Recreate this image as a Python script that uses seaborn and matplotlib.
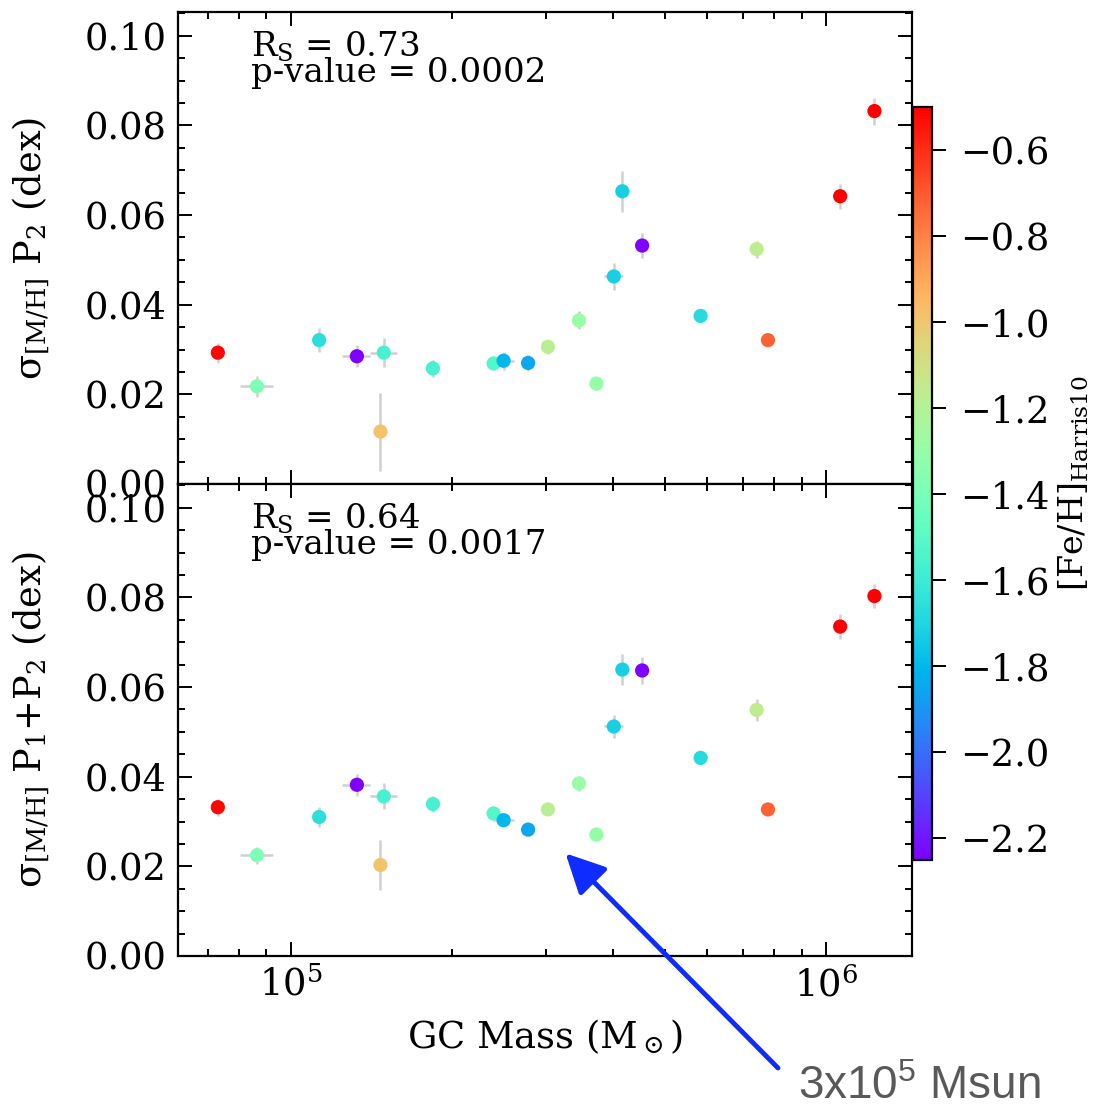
import numpy as np
import pandas as pd
import matplotlib
matplotlib.use("Agg")
import matplotlib.pyplot as plt
import matplotlib.ticker as mticker
import matplotlib.colors as mcolors
import seaborn as sns

# ---------------- data ----------------
gc_mass = [7.30e4, 8.64e4, 1.129e5, 1.328e5, 1.491e5, 1.470e5, 1.842e5, 2.392e5,
           2.497e5, 2.775e5, 3.022e5, 3.454e5, 3.723e5, 4.013e5, 4.163e5, 4.533e5,
           5.83e5, 7.42e5, 7.79e5, 1.063e6, 1.232e6]
mass_err = [1.0e3, 6.0e3, 1.0e3, 8.0e3, 8.5e3, 1.0e3, 1.0e3, 1.0e3,
            1.1e4, 1.0e3, 1.0e3, 1.0e3, 1.0e3, 1.7e4, 1.0e3, 1.0e3,
            1.0e3, 1.0e3, 1.0e3, 1.0e3, 1.0e3]
feh = [-0.52, -1.38, -1.66, -2.25, -1.56, -0.99, -1.56, -1.52,
       -1.80, -1.85, -1.18, -1.29, -1.30, -1.72, -1.72, -2.25,
       -1.68, -1.16, -0.72, -0.50, -0.50]
sigma_p2 = [0.0293, 0.0218, 0.0321, 0.0285, 0.0293, 0.0117, 0.0258, 0.0269,
            0.0275, 0.0270, 0.0306, 0.0365, 0.0224, 0.0463, 0.0653, 0.0532,
            0.0375, 0.0524, 0.0321, 0.0642, 0.0832]
sigma_p2_err = [0.0022, 0.0023, 0.0026, 0.0025, 0.0033, 0.0087, 0.0019, 0.0015,
                0.0020, 0.0018, 0.0015, 0.0020, 0.0015, 0.0031, 0.0046, 0.0028,
                0.0013, 0.0019, 0.0013, 0.0028, 0.0030]
sigma_p12 = [0.0332, 0.0225, 0.0310, 0.0382, 0.0356, 0.0203, 0.0339, 0.0318,
             0.0303, 0.0282, 0.0327, 0.0385, 0.0271, 0.0512, 0.0639, 0.0637,
             0.0442, 0.0549, 0.0327, 0.0735, 0.0803]
sigma_p12_err = [0.0019, 0.0019, 0.0022, 0.0024, 0.0029, 0.0055, 0.0017, 0.0015,
                 0.0013, 0.0011, 0.0013, 0.0016, 0.0015, 0.0025, 0.0035, 0.0030,
                 0.0011, 0.0025, 0.0011, 0.0027, 0.0026]
stats_top = ["0.73", "0.0002"]
stats_bottom = ["0.64", "0.0017"]
cbar_ticks = [-0.6, -0.8, -1.0, -1.2, -1.4, -1.6, -1.8, -2.0, -2.2]
arrow_target = (3.26e5, 0.0229)
arrow_label = "3x10$^5$ Msun"

df = pd.DataFrame({"mass": gc_mass, "mass_err": mass_err, "feh": feh,
                   "p2": sigma_p2, "p2_err": sigma_p2_err,
                   "p12": sigma_p12, "p12_err": sigma_p12_err})

# ---------------- style ----------------
sns.set_style("ticks")
plt.rcParams["font.family"] = ["DejaVu Serif"]
plt.rcParams["mathtext.fontset"] = "dejavuserif"
plt.rcParams["mathtext.rm"] = "Liberation Sans"
plt.rcParams["axes.linewidth"] = 1.6
plt.rcParams["axes.edgecolor"] = "black"
for k in ["text.color", "axes.labelcolor", "xtick.color", "ytick.color"]:
    plt.rcParams[k] = "black"

W, H = 1113, 1105
fig = plt.figure(figsize=(W / 100, H / 100), dpi=100)

def fx(px):
    return px / W

def fy(py):
    return 1 - py / H

ax_left, ax_right = 178, 912
ax1 = fig.add_axes([fx(ax_left), fy(484), fx(ax_right - ax_left), (484 - 12) / H])
ax2 = fig.add_axes([fx(ax_left), fy(956), fx(ax_right - ax_left), (956 - 484) / H], sharex=ax1)
cax = fig.add_axes([fx(913), fy(860), fx(932 - 913), (860 - 107) / H])

vmin, vmax = -2.25, -0.50
norm = mcolors.Normalize(vmin=vmin, vmax=vmax)
cmap = plt.get_cmap("rainbow")

FS = 26.5
ylabels = [r"σ$_{\rm [M/H]}$ P$_2$ (dex)", r"σ$_{\rm [M/H]}$ P$_1$+P$_2$ (dex)"]
for ax, col, ecol, stats, ylab in [(ax1, "p2", "p2_err", stats_top, ylabels[0]),
                                    (ax2, "p12", "p12_err", stats_bottom, ylabels[1])]:
    ax.errorbar(df["mass"], df[col], xerr=df["mass_err"], yerr=df[ecol], fmt="none",
                ecolor="#d0d0d0", elinewidth=1.8, capsize=0, zorder=1)
    sns.scatterplot(data=df, x="mass", y=col, hue="feh", palette="rainbow",
                    hue_norm=norm, s=105, edgecolor="none", linewidth=0,
                    legend=False, ax=ax, zorder=3)
    ax.set_xscale("log")
    ax.set_xlim(6.15e4, 1.448e6)
    ax.set_ylim(0, 0.1053)
    ax.yaxis.set_major_locator(mticker.MultipleLocator(0.02))
    ax.yaxis.set_minor_locator(mticker.MultipleLocator(0.005))
    ax.yaxis.set_major_formatter(mticker.FormatStrFormatter("%.2f"))
    ax.tick_params(which="both", direction="in", top=True, right=True,
                   labelsize=FS, width=1.4)
    ax.tick_params(which="major", length=10, pad=8)
    ax.tick_params(which="minor", length=5)
    ax.set_ylabel(ylab, fontsize=FS)
    ax.yaxis.set_label_coords(-0.172, 0.5)
    ax.set_xlabel("")
    ax.text(0.1, 0.905, r"R$_{\rm S}$ = " + stats[0], transform=ax.transAxes,
            fontsize=24.5, va="baseline", ha="left")
    ax.text(0.1, 0.851, "p-value = " + stats[1], transform=ax.transAxes,
            fontsize=24.5, va="baseline", ha="left")

ax1.tick_params(labelbottom=False)
ax2.set_xlabel(r"GC Mass (M$_\odot$)", fontsize=FS, labelpad=10)

sm = plt.cm.ScalarMappable(norm=norm, cmap=cmap)
sm.set_array([])
cb = fig.colorbar(sm, cax=cax, ticks=cbar_ticks)
cb.outline.set_linewidth(1.6)
cb.ax.tick_params(labelsize=FS, length=10, width=1.4, direction="out", pad=10)
cb.set_label(r"[Fe/H]$_{\rm Harris10}$", fontsize=24, labelpad=5)

# annotation arrow + text
ax2.annotate("", xy=arrow_target, xycoords="data",
             xytext=(fx(778), fy(1068)), textcoords="figure fraction",
             arrowprops=dict(arrowstyle="-|>,head_length=1.0,head_width=0.5",
                             mutation_scale=24, color="#0f2cff", lw=3.5,
                             shrinkA=0, shrinkB=0),
             annotation_clip=False)
fig.text(fx(798), fy(1099), arrow_label, fontsize=33, color="#595959",
         family=["Liberation Sans"], math_fontfamily="custom",
         ha="left", va="baseline")

fig.savefig("out.png", dpi=100)
